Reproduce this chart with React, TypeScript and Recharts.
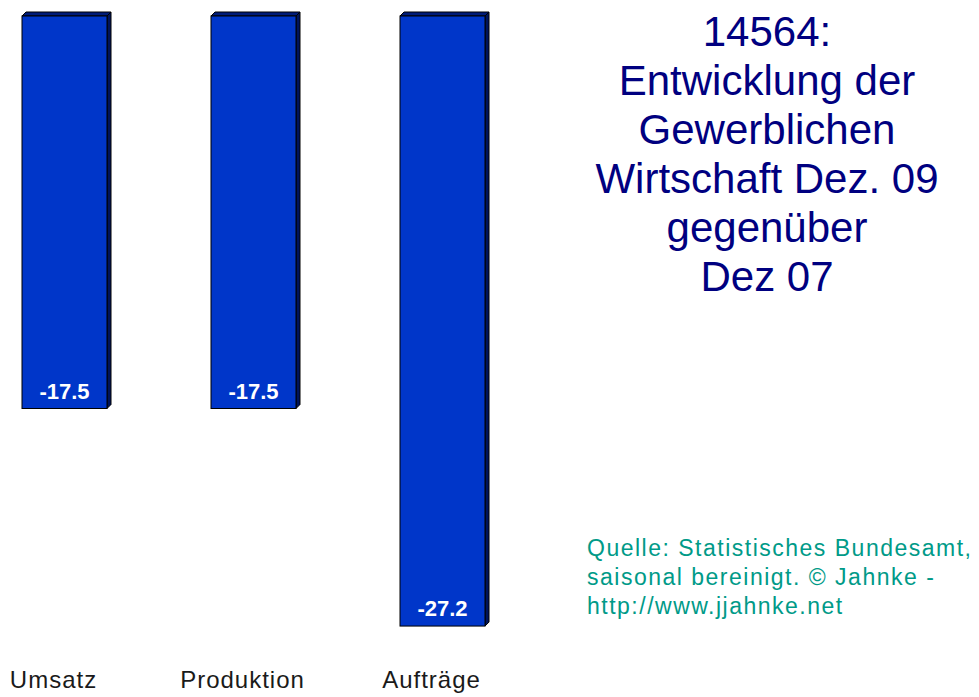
import { BarChart, Bar, XAxis, YAxis, LabelList } from 'recharts'

const categories = ['Umsatz', 'Produktion', 'Aufträge']
const changes = [-17.5, -17.5, -27.2]

const titleLines = ['14564:', 'Entwicklung der', 'Gewerblichen', 'Wirtschaft Dez. 09', 'gegenüber', 'Dez 07']
const sourceLines = ['Quelle: Statistisches Bundesamt,', 'saisonal bereinigt. © Jahnke -', 'http://www.jjahnke.net']

const data = categories.map((name, i) => ({ name, value: changes[i] }))

const DEPTH = 4

// flat bar with a small 3D top and right side
function Bar3D(props: any) {
  const { x, y, width, height } = props
  const top = Math.min(y, y + height)
  const h = Math.abs(height)
  const r = x + width
  const d = DEPTH
  return (
    <g>
      <polygon
        points={`${x},${top} ${x + d},${top - d} ${r + d},${top - d} ${r},${top}`}
        fill="#001c78" stroke="#000" strokeWidth={1}
      />
      <polygon
        points={`${r},${top} ${r + d},${top - d} ${r + d},${top + h - d} ${r},${top + h}`}
        fill="#00145a" stroke="#000" strokeWidth={1}
      />
      <rect x={x} y={top} width={width} height={h} fill="#0036c9" stroke="#000" strokeWidth={1} />
    </g>
  )
}

function ValueLabel(props: any) {
  const { x, y, width, height, value } = props
  const bottom = Math.max(y, y + height)
  return (
    <text x={x + width / 2} y={bottom - 10} textAnchor="middle" fill="#fff"
      fontSize={22} fontWeight="bold" fontFamily="Liberation Sans, Arial, sans-serif">
      {value}
    </text>
  )
}

function CatTick(props: any) {
  const { x, y, payload } = props
  return (
    <text x={x - 11} y={y + 36} textAnchor="middle" fill="#1a1a1a"
      fontSize={24} letterSpacing={1} fontFamily="Liberation Sans, Arial, sans-serif">
      {payload.value}
    </text>
  )
}

export default function App() {
  return (
    <div style={{ position: 'absolute', left: 0, top: 0, width: 979, height: 697, background: '#fff', overflow: 'hidden' }}>
      <div style={{ position: 'absolute', left: -30, top: 0 }}>
        <BarChart width={600} height={697} data={data} margin={{ top: 16, right: 33, bottom: 0, left: 0 }}>
          <YAxis hide domain={[-28, 0]} />
          <XAxis dataKey="name" orientation="bottom" height={53} axisLine={false} tickLine={false} tick={<CatTick />} interval={0} />
          <Bar dataKey="value" barSize={85} shape={<Bar3D />} isAnimationActive={false}>
            <LabelList dataKey="value" content={<ValueLabel />} />
          </Bar>
        </BarChart>
      </div>
      <div style={{
        position: 'absolute', left: 567, width: 400, top: 7, textAlign: 'center',
        color: '#000080', fontFamily: 'Liberation Sans, Arial, sans-serif', fontSize: 42, lineHeight: '49px',
      }}>
        {titleLines.map(l => <div key={l}>{l}</div>)}
      </div>
      <div style={{
        position: 'absolute', left: 587, top: 534, color: '#009a88',
        fontFamily: 'Liberation Sans, Arial, sans-serif', fontSize: 23, lineHeight: '29px', letterSpacing: 1.5, whiteSpace: 'nowrap',
      }}>
        {sourceLines.map(l => <div key={l}>{l}</div>)}
      </div>
    </div>
  )
}
